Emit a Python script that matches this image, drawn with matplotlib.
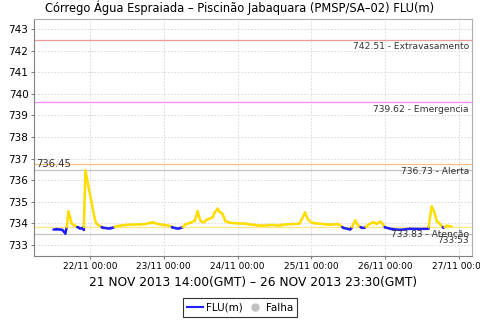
from datetime import datetime, timedelta
import numpy as np
import matplotlib
matplotlib.use("Agg")
import matplotlib.pyplot as plt
import matplotlib.dates as mdates
from matplotlib.collections import LineCollection
from matplotlib.lines import Line2D
import matplotlib.transforms as mtransforms

# hours after 21/11/2013 00:00 (local) and level FLU(m)
hours = [12.0, 13.0, 14.0, 15.0, 15.5, 16.0, 16.5, 17.0, 17.5, 18.0, 19.0, 20.0,
         20.5, 21.5, 22.0, 22.5, 23.0, 23.5, 24.0, 24.5, 25.0, 25.5, 26.0, 27.0,
         28.0, 28.5, 29.5, 30.5, 31.5, 32.5, 34.0, 36.0, 38.0, 40.0, 42.0, 44.5,
         46.0, 48.0, 50.0, 51.0, 52.0, 53.0, 54.0, 55.0, 56.0, 57.0, 58.0, 58.5,
         59.0, 59.5, 60.0, 61.0, 62.0, 63.0, 64.0, 64.5, 65.5, 66.0, 66.5, 67.0,
         67.5, 68.0, 69.0, 70.0, 72.0, 74.0, 76.0, 78.0, 80.0, 82.0, 84.0, 86.0,
         88.0, 90.0, 92.0, 92.8, 93.9, 94.9, 96.0, 97.2, 99.0, 101.0, 102.0, 104.7,
         106.4, 108.6, 109.1, 110.2, 111.3, 112.4, 113.4, 114.5, 115.6, 116.4, 117.2,
         118.3, 118.9, 119.9, 121.6, 124.8, 128.1, 131.3, 134.0, 135.1, 135.9, 136.8,
         137.8, 138.9, 140.0, 141.6]
level = [733.74, 733.74, 733.72, 733.70, 733.62, 733.53, 733.85, 734.55, 734.30, 734.00, 733.90, 733.82,
         733.80, 733.80, 733.70, 736.45, 736.10, 735.70, 735.35, 735.00, 734.60, 734.25, 734.00, 733.90,
         733.81, 733.79, 733.78, 733.78, 733.80, 733.86, 733.90, 733.93, 733.95, 733.95, 733.97, 734.05,
         733.97, 733.93, 733.88, 733.80, 733.78, 733.78, 733.81, 733.95, 734.00, 734.05, 734.12, 734.30,
         734.57, 734.30, 734.10, 734.05, 734.17, 734.22, 734.30, 734.50, 734.68, 734.55, 734.50, 734.45,
         734.30, 734.10, 734.05, 734.02, 734.00, 734.00, 733.95, 733.92, 733.92, 733.92, 733.93, 733.93,
         733.95, 733.97, 733.98, 734.17, 734.50, 734.17, 734.05, 734.00, 733.98, 733.95, 733.94, 733.97,
         733.79, 733.72, 733.80, 734.14, 733.89, 733.79, 733.80, 733.94, 734.02, 734.05, 733.97,
         734.08, 734.02, 733.82, 733.75, 733.70, 733.75, 733.74, 733.75, 734.78, 734.55, 734.09,
         733.97, 733.80, 733.89, 733.86]

ref_values = [742.51, 739.62, 736.73, 733.83]
ref_names = ["Extravasamento", "Emergencia", "Alerta", "Atenção"]
ref_colors = ["#ee9a9a", "#ff88ff", "#ffc080", "#ffe680"]
max_level = 736.45
min_level = 733.53

title = "Córrego Água Espraiada – Piscinão Jabaquara (PMSP/SA–02) FLU(m)"
period = "21 NOV 2013 14:00(GMT) – 26 NOV 2013 23:30(GMT)"

YELLOW = "#ffdd00"
BLUE = "#2020ff"

base = datetime(2013, 11, 21)
times = [base + timedelta(hours=h) for h in hours]
xs = mdates.date2num(times)
ys = np.array(level)
thr = ref_values[3]

fig = plt.figure(figsize=(4.8, 3.2), dpi=100)
ax = fig.add_axes([0.0708, 0.2, 0.9125, 0.7406])

# reference levels
for v, c in zip(ref_values, ref_colors):
    ax.axhline(v, color=c, lw=0.9, zorder=2)
ax.axhline(max_level, color="#c4c4c4", lw=0.9, zorder=2)
ax.axhline(min_level, color="#c4c4c4", lw=0.9, zorder=2)

# series: yellow above attention level, blue below (split segments at the crossing)
segs, cols = [], []
for i in range(len(xs) - 1):
    x0, x1, y0, y1 = xs[i], xs[i + 1], ys[i], ys[i + 1]
    if (y0 - thr) * (y1 - thr) < 0:
        xc = x0 + (thr - y0) / (y1 - y0) * (x1 - x0)
        segs.append([(x0, y0), (xc, thr)])
        cols.append(YELLOW if y0 > thr else BLUE)
        segs.append([(xc, thr), (x1, y1)])
        cols.append(YELLOW if y1 > thr else BLUE)
    else:
        segs.append([(x0, y0), (x1, y1)])
        cols.append(YELLOW if (y0 + y1) / 2 > thr else BLUE)
ax.add_collection(LineCollection(segs, colors=cols, linewidths=1.8, zorder=3, capstyle="round"))

trans = mtransforms.blended_transform_factory(ax.transAxes, ax.transData)
for v, n in zip(ref_values, ref_names):
    ax.annotate(f"{v:.2f} - {n}", xy=(0.993, v), xycoords=trans, xytext=(0, -2),
                textcoords="offset points", ha="right", va="top", fontsize=6.6, color="#333333", zorder=4)
ax.annotate(f"{min_level:.2f}", xy=(0.993, min_level), xycoords=trans, xytext=(0, -2),
            textcoords="offset points", ha="right", va="top", fontsize=6.6, color="#333333", zorder=4)
ax.annotate(f"{max_level:.2f}", xy=(0.005, max_level), xycoords=trans, xytext=(0, 1),
            textcoords="offset points", ha="left", va="bottom", fontsize=7.2, color="#333333", zorder=4)

ax.set_xlim(base + timedelta(hours=5.8), base + timedelta(hours=148.2))
ax.set_ylim(732.49, 743.46)
ax.set_yticks(range(733, 744))
ax.xaxis.set_major_locator(mdates.DayLocator())
ax.xaxis.set_major_formatter(mdates.DateFormatter("%d/%m %H:%M"))

ax.grid(True, color="#d4d4d4", lw=0.6, linestyle=(0, (2, 2)))
ax.set_axisbelow(True)
for s in ax.spines.values():
    s.set_color("#b0b0b0")
    s.set_linewidth(0.8)
ax.spines["left"].set_color("#808080")
ax.spines["bottom"].set_color("#808080")
ax.tick_params(axis="y", labelsize=7.5, length=2, pad=2, color="#808080")
ax.tick_params(axis="x", labelsize=6.5, length=2, pad=2, color="#808080")

fig.text(0.5, 0.975, title, ha="center", va="center", fontsize=8.3)
fig.text(0.527, 0.116, period, ha="center", va="center", fontsize=8.8)

handles = [Line2D([], [], color=BLUE, lw=1.5),
           Line2D([], [], color="#c0c0c0", marker="o", lw=0, markersize=5)]
leg = fig.legend(handles, ["FLU(m)", "Falha"], loc="lower center", bbox_to_anchor=(0.5, -0.006),
                 ncol=2, fontsize=7.5, frameon=True, fancybox=False, handlelength=1.5,
                 handletextpad=0.3, columnspacing=0.4, borderpad=0.4)
leg.get_frame().set_edgecolor("black")
leg.get_frame().set_linewidth(0.8)

fig.savefig("out.png", dpi=100)
